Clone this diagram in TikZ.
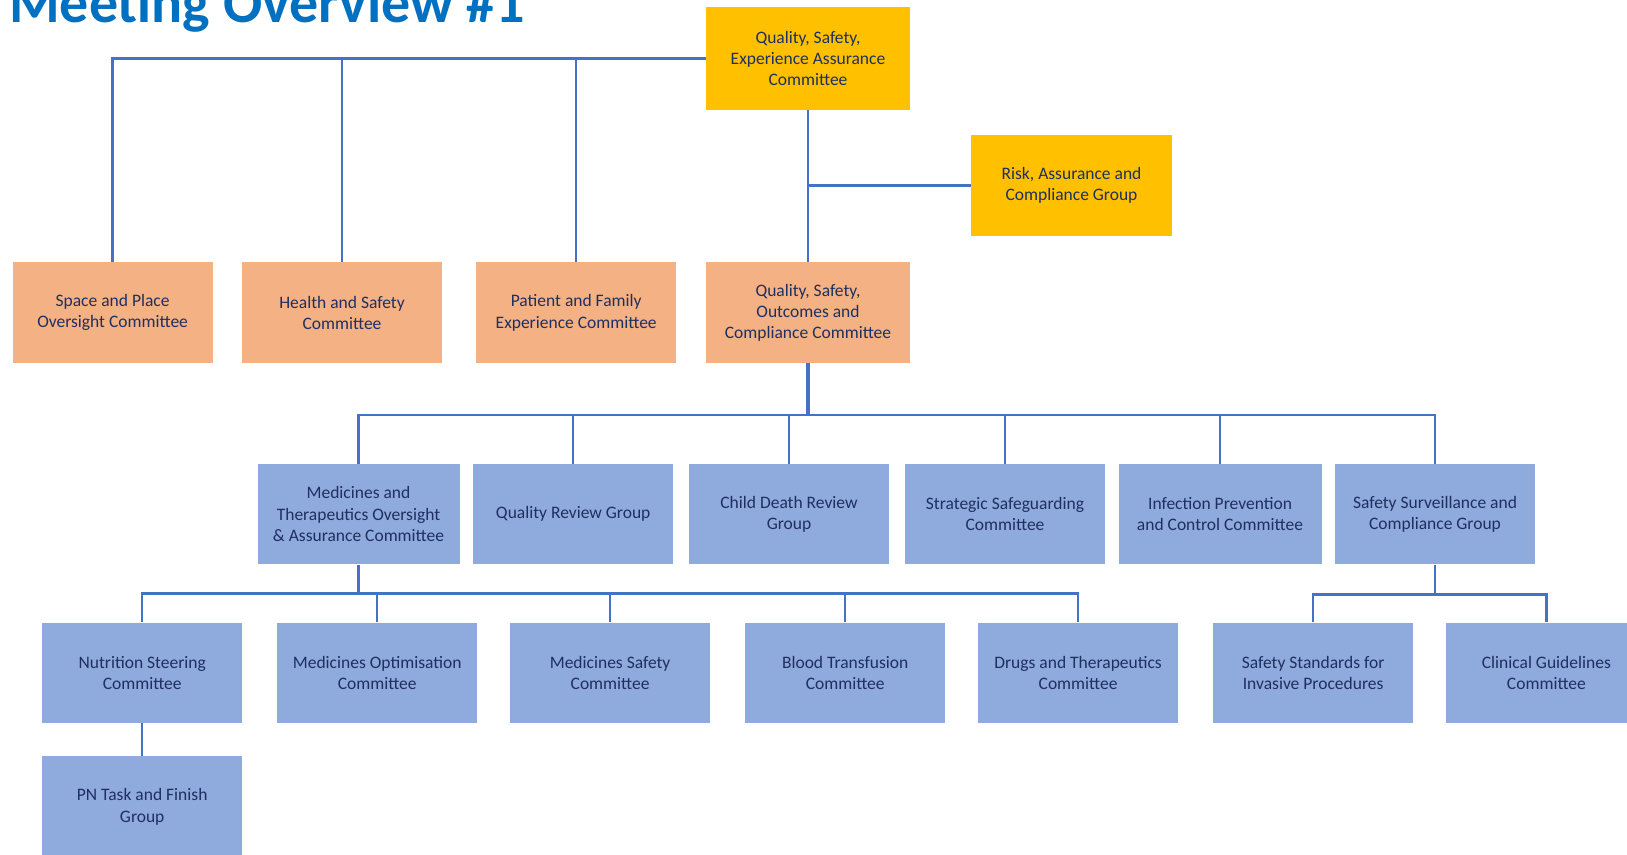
\documentclass[tikz,border=0pt]{standalone}
\usepackage{fontspec}
\setmainfont{Carlito}
\usetikzlibrary{calc}
\definecolor{titleblue}{HTML}{0070C0}
\definecolor{linkblue}{HTML}{4472C4}
\definecolor{goldbox}{HTML}{FFC000}
\definecolor{peachbox}{HTML}{F4B183}
\definecolor{bluebox}{HTML}{8FAADC}
\definecolor{inknavy}{HTML}{1F3060}
\tikzset{
  unitbox/.style={rectangle, draw=none, text=inknavy, align=center, inner sep=2pt,
    minimum width=200pt, minimum height=100.5pt, font=\fontsize{17.5}{21.3}\selectfont},
  execbox/.style={unitbox, fill=goldbox},
  commbox/.style={unitbox, fill=peachbox},
  groupbox/.style={unitbox, fill=bluebox},
  link/.style={draw=linkblue, line width=2.4pt},
  trunk/.style={draw=linkblue, line width=4pt}
}

\begin{document}
\begin{tikzpicture}[x=1pt, y=-1pt]
  % Fondo y marco
  \fill[white] (0,0) rectangle (1627,854);
  \useasboundingbox (0,0) rectangle (1627,854);
  % Titulo
  \node[anchor=base west, inner sep=0pt, text=titleblue, font=\fontsize{58}{60}\selectfont\bfseries] (title) at (9,22.5) {Meeting Overview \#1};
  % Comites superiores
  \node[execbox, minimum width=204pt, minimum height=103pt] (qseac) at (808,58.5) {Quality, Safety,\\Experience Assurance\\Committee};
  \node[execbox, minimum width=201pt, minimum height=101pt] (risk) at (1071.5,185.5) {Risk, Assurance and\\Compliance Group};
  % Primer nivel
  \node[commbox] (space) at (112.6,312.7) {Space and Place\\Oversight Committee};
  \node[commbox] (health) at (342,312.7) {Health and Safety\\Committee};
  \node[commbox] (patient) at (576.2,312.7) {Patient and Family\\Experience Committee};
  \node[commbox, minimum width=204pt] (qsocc) at (808,312.7) {Quality, Safety,\\Outcomes and\\Compliance Committee};
  % Segundo nivel
  \node[groupbox, minimum width=202pt] (mto) at (358.5,514.2) {Medicines and\\Therapeutics Oversight\\\& Assurance Committee};
  \node[groupbox] (qrg) at (573.2,514.2) {Quality Review Group};
  \node[groupbox] (cdr) at (789,514.2) {Child Death Review\\Group};
  \node[groupbox] (ssg) at (1005,514.2) {Strategic Safeguarding\\Committee};
  \node[groupbox, minimum width=203pt] (ipc) at (1220,514.2) {Infection Prevention\\and Control Committee};
  \node[groupbox] (ssc) at (1435,514.2) {Safety Surveillance and\\Compliance Group};
  % Tercer nivel
  \node[groupbox] (nsc) at (142.2,672.8) {Nutrition Steering\\Committee};
  \node[groupbox] (moc) at (377.2,672.8) {Medicines Optimisation\\Committee};
  \node[groupbox] (msc) at (610.1,672.8) {Medicines Safety\\Committee};
  \node[groupbox] (btc) at (845.2,672.8) {Blood Transfusion\\Committee};
  \node[groupbox] (dtc) at (1078.1,672.8) {Drugs and Therapeutics\\Committee};
  \node[groupbox] (ssip) at (1313.1,672.8) {Safety Standards for\\Invasive Procedures};
  \node[groupbox] (cgc) at (1546.4,672.8) {Clinical Guidelines\\Committee};
  % Cuarto nivel
  \node[groupbox] (pn) at (142.2,806.7) {PN Task and Finish\\Group};
  % Conectores superiores
  \foreach \n in {space,health,patient}
    \draw[link] (qseac.west) -| (\n.north);
  \draw[link] (qseac.south) -- (qsocc.north);
  \draw[link] (risk.west) -- (risk.west -| qseac.south);
  % Bus del segundo nivel
  \coordinate (busA) at (808,415);
  \draw[trunk] (qsocc.south) -- (busA);
  \foreach \n in {mto,qrg,cdr,ssg,ipc,ssc}
    \draw[link] (busA) -| (\n.north);
  % Buses del tercer nivel
  \coordinate (busB) at (358.5,593.5);
  \draw[link] (mto.south) -- (busB);
  \foreach \n in {nsc,moc,msc,btc,dtc}
    \draw[link] (busB) -| (\n.north);
  \coordinate (busC) at (1435,594.5);
  \draw[link] (ssc.south) -- (busC);
  \foreach \n in {ssip,cgc}
    \draw[link] (busC) -| (\n.north);
  \draw[link] (nsc.south) -- (pn.north);
\end{tikzpicture}
\end{document}
